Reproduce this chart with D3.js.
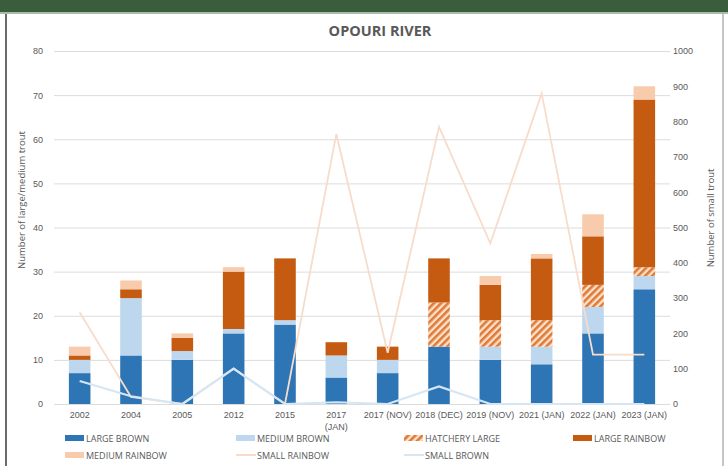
<!DOCTYPE html>
<html>
<head>
<meta charset="utf-8">
<script src="https://cdn.jsdelivr.net/npm/d3@7"></script>
<style>
  body { margin: 0; background: #fff; }
  svg { display: block; font-family: "Liberation Sans Narrow", "Open Sans", "Noto Sans", sans-serif; }
</style>
</head>
<body>
<svg id="canvas"></svg>
<script>
// chart data
const categories = ['2002', '2004', '2005', '2012', '2015', '2017\n(JAN)', '2017 (NOV)',
                    '2018 (DEC)', '2019 (NOV)', '2021 (JAN)', '2022 (JAN)', '2023 (JAN)'];

const largeBrown    = [7, 11, 10, 16, 18, 6, 7, 13, 10, 9, 16, 26];
const mediumBrown   = [3, 13, 2, 1, 1, 5, 3, 0, 3, 4, 6, 3];
const hatcheryLarge = [0, 0, 0, 0, 0, 0, 0, 10, 6, 6, 5, 2];
const largeRainbow  = [1, 2, 3, 13, 14, 3, 3, 10, 8, 14, 11, 38];
const mediumRainbow = [2, 2, 1, 1, 0, 0, 0, 0, 2, 1, 5, 3];

const smallRainbow = [260, 20, 0, 100, 0, 765, 145, 785, 455, 880, 140, 140];
const smallBrown   = [65, 22, 0, 100, 0, 5, 0, 50, 0, 0, 0, 0];

const leftTicks  = [0, 10, 20, 30, 40, 50, 60, 70, 80];
const rightTicks = [0, 100, 200, 300, 400, 500, 600, 700, 800, 900, 1000];

const seriesNames = ['LARGE BROWN', 'MEDIUM BROWN', 'HATCHERY LARGE', 'LARGE RAINBOW',
                     'MEDIUM RAINBOW', 'SMALL RAINBOW', 'SMALL BROWN'];

let width = 728;
let height = 466;

let plotLeft = 54;
let plotRight = 670;
let plotTop = 51;
let plotBottom = 404;

let textColor = '#595959';

let canvas = d3.select('#canvas')
    .attr('width', width)
    .attr('height', height);

// hatch pattern for hatchery fish
let defs = canvas.append('defs');
let pat = defs.append('pattern')
    .attr('id', 'hatch')
    .attr('patternUnits', 'userSpaceOnUse')
    .attr('width', 5)
    .attr('height', 5)
    .attr('patternTransform', 'rotate(45)');
pat.append('rect').attr('width', 5).attr('height', 5).attr('fill', '#fbe2cf');
pat.append('rect').attr('width', 2.6).attr('height', 5).attr('fill', '#e07a35');

const colors = {
    'LARGE BROWN': '#2e75b6',
    'MEDIUM BROWN': '#bdd7ee',
    'HATCHERY LARGE': 'url(#hatch)',
    'LARGE RAINBOW': '#c55a11',
    'MEDIUM RAINBOW': '#f8cbad',
    'SMALL RAINBOW': '#f8dccb',
    'SMALL BROWN': '#d6e6f5'
};

// header band and frame
canvas.append('rect')
    .attr('x', 0).attr('y', 0)
    .attr('width', width).attr('height', 12)
    .attr('fill', '#3a5d3b');
canvas.append('rect')
    .attr('x', 0).attr('y', 12)
    .attr('width', width).attr('height', 2)
    .attr('fill', '#a9bca9');
canvas.append('line')
    .attr('x1', 6).attr('x2', 6).attr('y1', 14).attr('y2', height)
    .attr('stroke', '#3a3a3a').attr('stroke-width', 1.5);
canvas.append('line')
    .attr('x1', 723).attr('x2', 723).attr('y1', 14).attr('y2', height)
    .attr('stroke', '#8a8a8a').attr('stroke-width', 1);

// title
canvas.append('text')
    .attr('x', 380)
    .attr('y', 36)
    .attr('text-anchor', 'middle')
    .attr('font-family', '"Open Sans", "Noto Sans", sans-serif')
    .attr('font-size', 14.5)
    .attr('font-weight', 'bold')
    .attr('fill', textColor)
    .text('OPOURI RIVER');

// scales
let xScale = d3.scaleBand()
    .domain(categories)
    .range([plotLeft, plotRight])
    .paddingInner(0.58)
    .paddingOuter(0.29);

let yLeft = d3.scaleLinear()
    .domain([0, 80])
    .range([plotBottom, plotTop]);

let yRight = d3.scaleLinear()
    .domain([0, 1000])
    .range([plotBottom, plotTop]);

// gridlines
canvas.append('g')
    .selectAll('line')
    .data(leftTicks)
    .enter()
    .append('line')
    .attr('x1', plotLeft)
    .attr('x2', plotRight)
    .attr('y1', (d) => yLeft(d) + 0.5)
    .attr('y2', (d) => yLeft(d) + 0.5)
    .attr('stroke', '#dcdcdc')
    .attr('stroke-width', 1);

// left axis
let yAxisLeft = d3.axisLeft(yLeft)
    .tickValues(leftTicks)
    .tickSize(0)
    .tickPadding(0);
let gl = canvas.append('g')
    .attr('transform', 'translate(43, 0)')
    .call(yAxisLeft);
gl.select('.domain').remove();
gl.selectAll('text')
    .attr('font-size', 9)
    .attr('fill', textColor);

// right axis
let yAxisRight = d3.axisRight(yRight)
    .tickValues(rightTicks)
    .tickFormat(d3.format('d'))
    .tickSize(0)
    .tickPadding(0);
let gr = canvas.append('g')
    .attr('transform', 'translate(673, 0)')
    .call(yAxisRight);
gr.select('.domain').remove();
gr.selectAll('text')
    .attr('font-size', 9)
    .attr('fill', textColor);

// axis titles
canvas.append('text')
    .attr('transform', 'translate(25, 200) rotate(-90)')
    .attr('text-anchor', 'middle')
    .attr('font-size', 9.5)
    .attr('fill', textColor)
    .text('Number of large/medium trout');

canvas.append('text')
    .attr('transform', 'translate(714, 218) rotate(-90)')
    .attr('text-anchor', 'middle')
    .attr('font-size', 9.5)
    .attr('fill', textColor)
    .text('Number of small trout');

// stacked bars
let rows = categories.map((c, i) => ({
    cat: c,
    'LARGE BROWN': largeBrown[i],
    'MEDIUM BROWN': mediumBrown[i],
    'HATCHERY LARGE': hatcheryLarge[i],
    'LARGE RAINBOW': largeRainbow[i],
    'MEDIUM RAINBOW': mediumRainbow[i]
}));

let stackKeys = seriesNames.slice(0, 5);
let stacked = d3.stack().keys(stackKeys)(rows);

canvas.append('g')
    .selectAll('g')
    .data(stacked)
    .enter()
    .append('g')
    .attr('fill', (s) => colors[s.key])
    .selectAll('rect')
    .data((s) => s)
    .enter()
    .append('rect')
    .attr('x', (d) => xScale(d.data.cat))
    .attr('width', xScale.bandwidth())
    .attr('y', (d) => yLeft(d[1]))
    .attr('height', (d) => yLeft(d[0]) - yLeft(d[1]));

// small fish lines on the right axis
let line = d3.line()
    .x((d, i) => xScale(categories[i]) + xScale.bandwidth() / 2)
    .y((d) => yRight(d));

canvas.append('path')
    .datum(smallRainbow)
    .attr('d', line)
    .attr('fill', 'none')
    .attr('stroke', colors['SMALL RAINBOW'])
    .attr('stroke-width', 1.8);

canvas.append('path')
    .datum(smallBrown)
    .attr('d', line)
    .attr('fill', 'none')
    .attr('stroke', colors['SMALL BROWN'])
    .attr('stroke-width', 2.2);

// category labels, "\n" means a wrapped label
let xAxis = d3.axisBottom(xScale).tickSize(0).tickPadding(0).tickFormat('');
let gx = canvas.append('g')
    .attr('transform', 'translate(0, ' + plotBottom + ')')
    .call(xAxis);
gx.select('.domain').remove();
gx.selectAll('.tick')
    .append('text')
    .attr('fill', textColor)
    .attr('font-size', 9)
    .attr('text-anchor', 'middle')
    .selectAll('tspan')
    .data((d) => d.split('\n'))
    .enter()
    .append('tspan')
    .attr('x', 0)
    .attr('y', (d, i) => 14 + i * 12)
    .text((d) => d);

// legend
let legendX = [65, 236, 404, 573];
let legendY = [438, 455];

let legend = canvas.append('g')
    .selectAll('g')
    .data(seriesNames)
    .enter()
    .append('g')
    .attr('transform', (d, i) => 'translate(' + legendX[i % 4] + ',' + legendY[Math.floor(i / 4)] + ')');

legend.filter((d, i) => i < 5)
    .append('rect')
    .attr('x', 0)
    .attr('y', -3)
    .attr('width', 19)
    .attr('height', 6)
    .attr('fill', (d) => colors[d]);

legend.filter((d, i) => i >= 5)
    .append('line')
    .attr('x1', 0)
    .attr('x2', 20)
    .attr('y1', 0)
    .attr('y2', 0)
    .attr('stroke', (d) => colors[d])
    .attr('stroke-width', 2);

legend.append('text')
    .attr('x', 21)
    .attr('y', 3.5)
    .attr('font-size', 9)
    .attr('fill', textColor)
    .text((d) => d);
</script>
</body>
</html>
